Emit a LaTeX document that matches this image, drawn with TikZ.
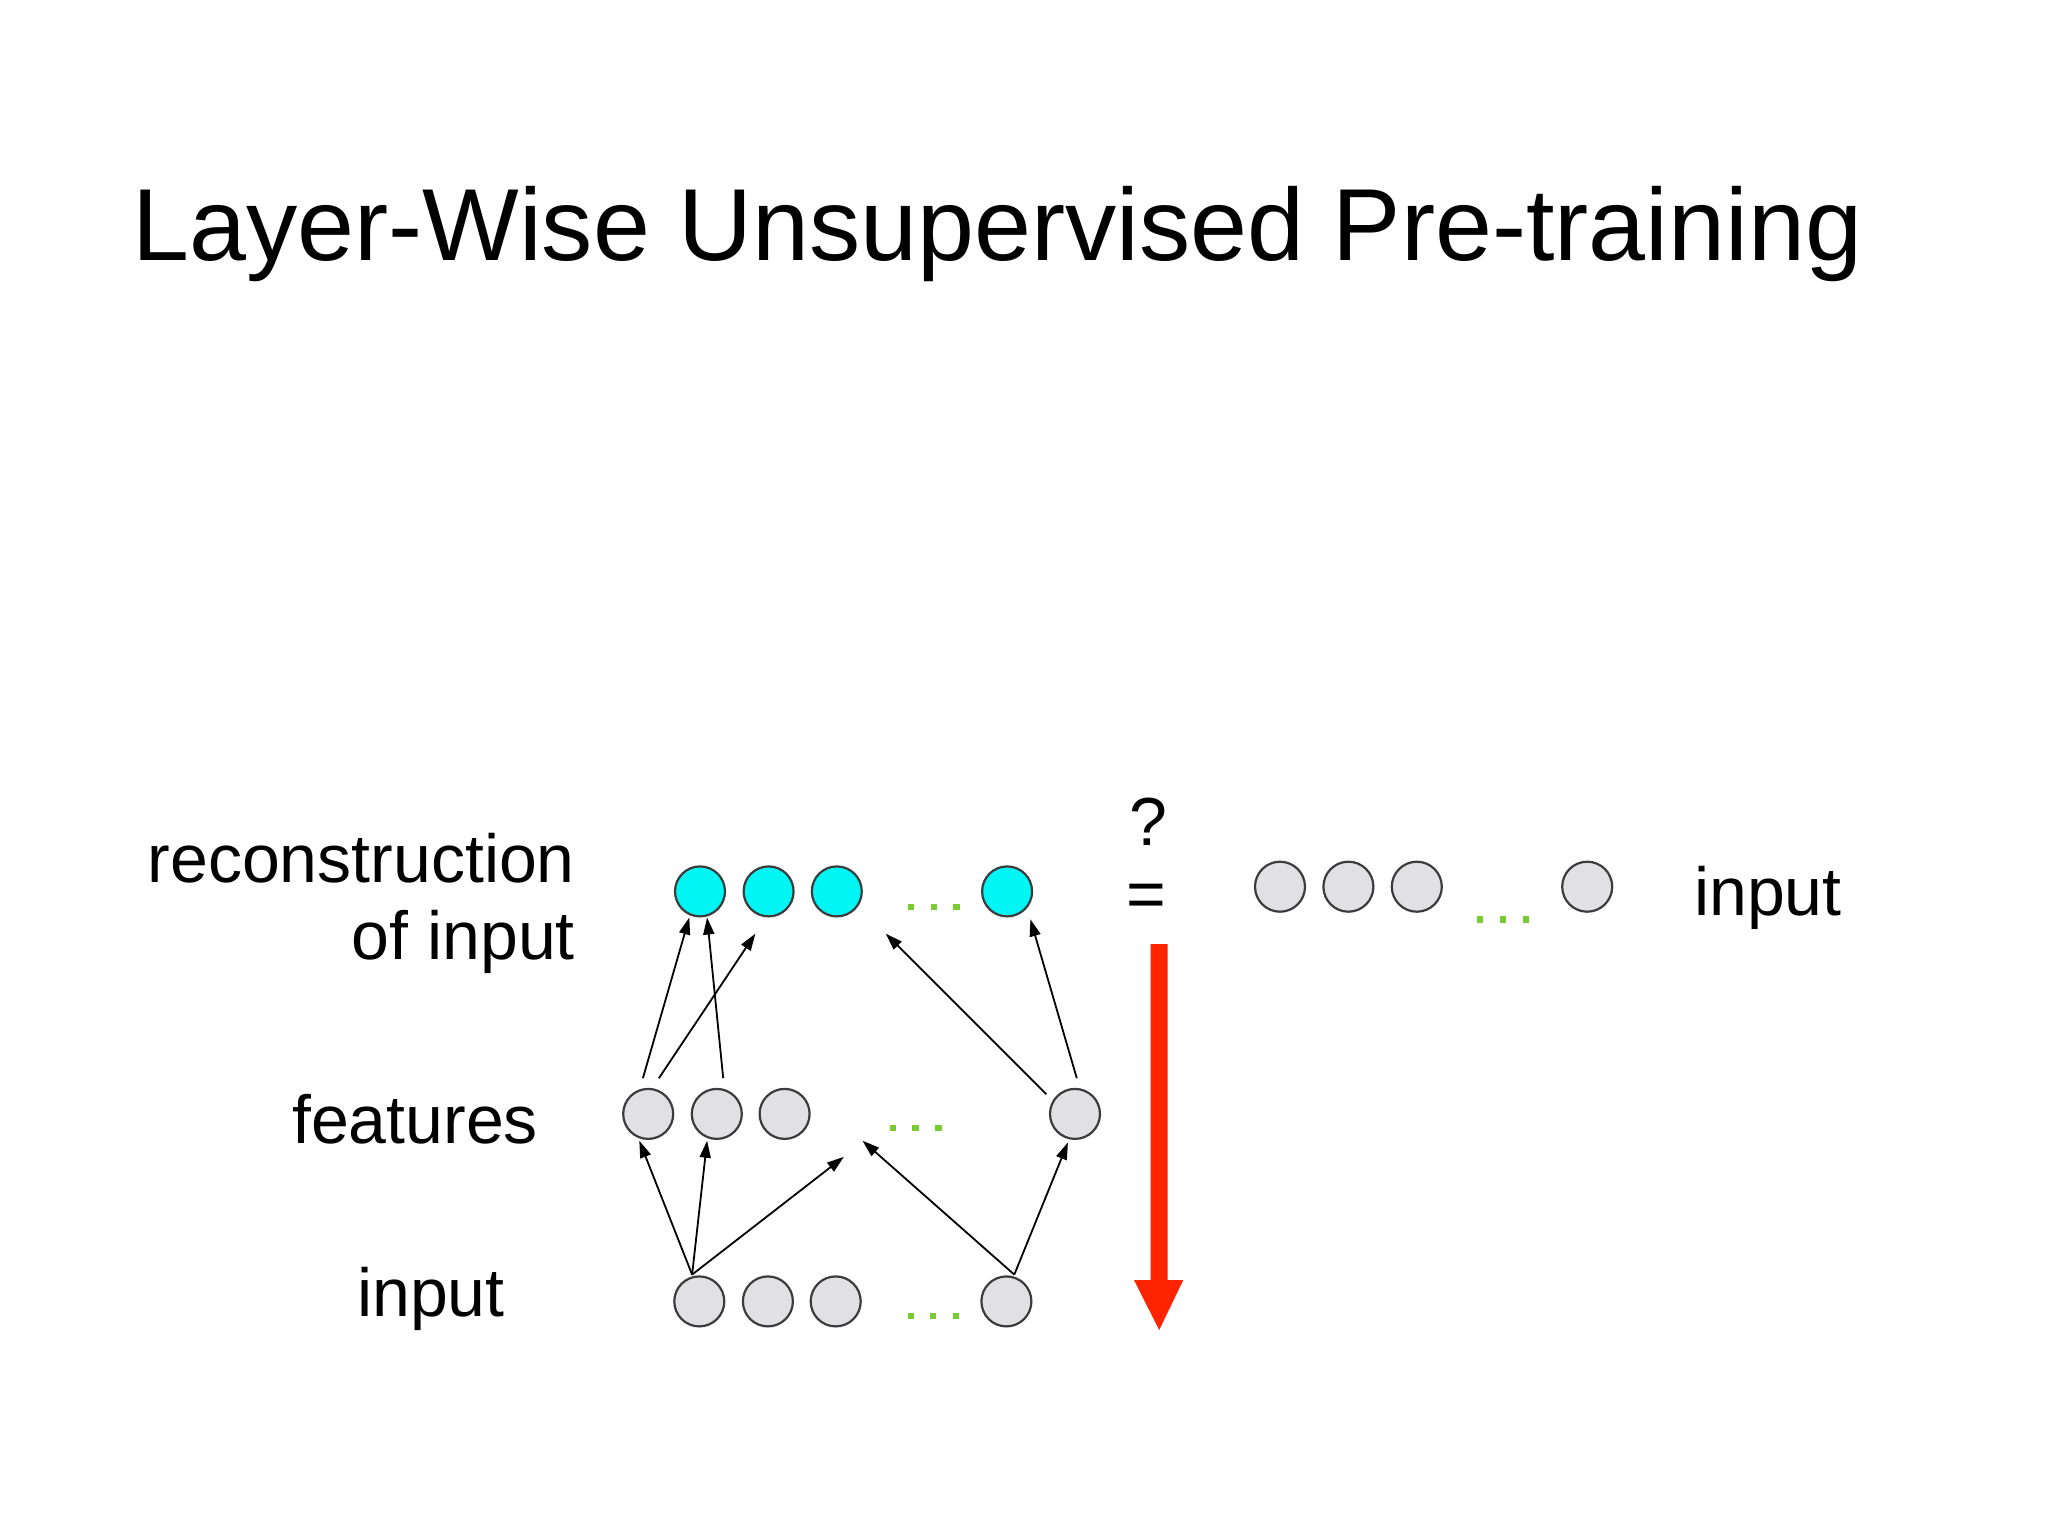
\documentclass[tikz,border=0pt]{standalone}
\usepackage{fontspec}
\setmainfont{Liberation Sans}
\usetikzlibrary{arrows.meta,calc}
\definecolor{unitfill}{HTML}{E1E1E3}
\definecolor{unitedge}{HTML}{3C3C3C}
\definecolor{recfill}{HTML}{00F5F5}
\definecolor{dotgreen}{HTML}{77CC33}
\definecolor{bigred}{HTML}{FF2400}
\tikzset{
  unit/.style={circle, draw=unitedge, line width=2.2pt, fill=unitfill, minimum size=50pt, inner sep=0pt},
  recunit/.style={unit, fill=recfill},
  conn/.style={line width=1.8pt, -{Triangle[length=17pt,width=11pt]}},
  lbl/.style={inner sep=0pt, font=\fontsize{68}{80}\selectfont},
  gdot/.style={fill=dotgreen},
}
\begin{document}
\begin{tikzpicture}[x=1pt,y=-1pt]
\useasboundingbox (0,0) rectangle (2048,1536);
\fill[white] (0,0) rectangle (2048,1536);

% title
\node[inner sep=0pt, anchor=base west, font=\fontsize{102.4}{120}\selectfont] (title) at (132,260) {Layer-Wise Unsupervised Pre-training};

% labels
\node[lbl, anchor=base east] (lrec) at (575,882) {reconstruction};
\node[lbl, anchor=base east] (lof) at (575,959) {of input};
\node[lbl, anchor=base west] (lfeat) at (292,1143) {features};
\node[lbl, anchor=base west] (lin) at (357,1316) {input};
\node[lbl, anchor=base west] (rin) at (1694,915) {input};
\node[lbl, anchor=base west] (qm) at (1129,845) {?};
\node[lbl, anchor=base west] (eq) at (1126,917) {=};

% reconstruction row
\node[recunit] (c1) at (700,891.4) {};
\node[recunit] (c2) at (768.6,891.4) {};
\node[recunit] (c3) at (836.8,891.4) {};
\node[recunit] (c4) at (1007.1,891.4) {};
% features row
\node[unit] (f1) at (648.2,1113.9) {};
\node[unit] (f2) at (716.8,1113.9) {};
\node[unit] (f3) at (784.6,1113.9) {};
\node[unit] (f4) at (1075,1113.9) {};
% input row
\node[unit] (i1) at (699.3,1301.4) {};
\node[unit] (i2) at (767.9,1301.4) {};
\node[unit] (i3) at (835.7,1301.4) {};
\node[unit] (i4) at (1006.4,1301.4) {};
% right input row
\node[unit] (r1) at (1280,886.7) {};
\node[unit] (r2) at (1348.4,886.7) {};
\node[unit] (r3) at (1416.8,886.7) {};
\node[unit] (r4) at (1587.2,886.7) {};

% green dots
\foreach \x/\y in {910.7/906.8, 933.9/906.8, 956.4/906.8,
                   892.9/1128.2, 915.4/1128.2, 938.6/1128.2,
                   910.7/1315.7, 932.9/1315.7, 956.1/1315.7,
                   1480.1/919.3, 1503.1/919.3, 1526/919.3}
  \fill[gdot] (\x-3.2,\y-3.2) rectangle (\x+3.2,\y+3.2);

% free ends
\coordinate (e1) at (755.4,933.6);
\coordinate (e2) at (885.7,933.6);
\coordinate (e3) at (843.9,1156.8);
\coordinate (e4) at (862.5,1140.7);

% features -> reconstruction
\draw[conn] ($(f1)+(-5.3,-35.7)$) -- ($(c1)+(-10.7,26.1)$);
\draw[conn] ($(f1)+(10.7,-35.7)$) -- (e1);
\draw[conn] ($(f2)+(6.4,-35.7)$) -- ($(c1)+(7.1,26.1)$);
\draw[conn] ($(f4)+(-28.6,-19.6)$) -- (e2);
\draw[conn] ($(f4)+(1.8,-35.7)$) -- ($(c4)+(23.3,27.9)$);

% input -> features
\draw[conn] ($(i1)+(-7.2,-26.8)$) -- ($(f1)+(-8.9,26.8)$);
\draw[conn] ($(i1)+(-7.2,-26.8)$) -- ($(f2)+(-9.7,26.8)$);
\draw[conn] ($(i1)+(-7.2,-26.8)$) -- (e3);
\draw[conn] ($(i4)+(7.9,-26.8)$) -- (e4);
\draw[conn] ($(i4)+(7.9,-26.8)$) -- ($(f4)+(-7.1,28.6)$);

% big red arrow
\fill[bigred] (1150.7,944) -- (1167.7,944) -- (1167.7,1280) -- (1183.3,1280)
  -- (1159.2,1330) -- (1134,1280) -- (1150.7,1280) -- cycle;
\end{tikzpicture}
\end{document}
